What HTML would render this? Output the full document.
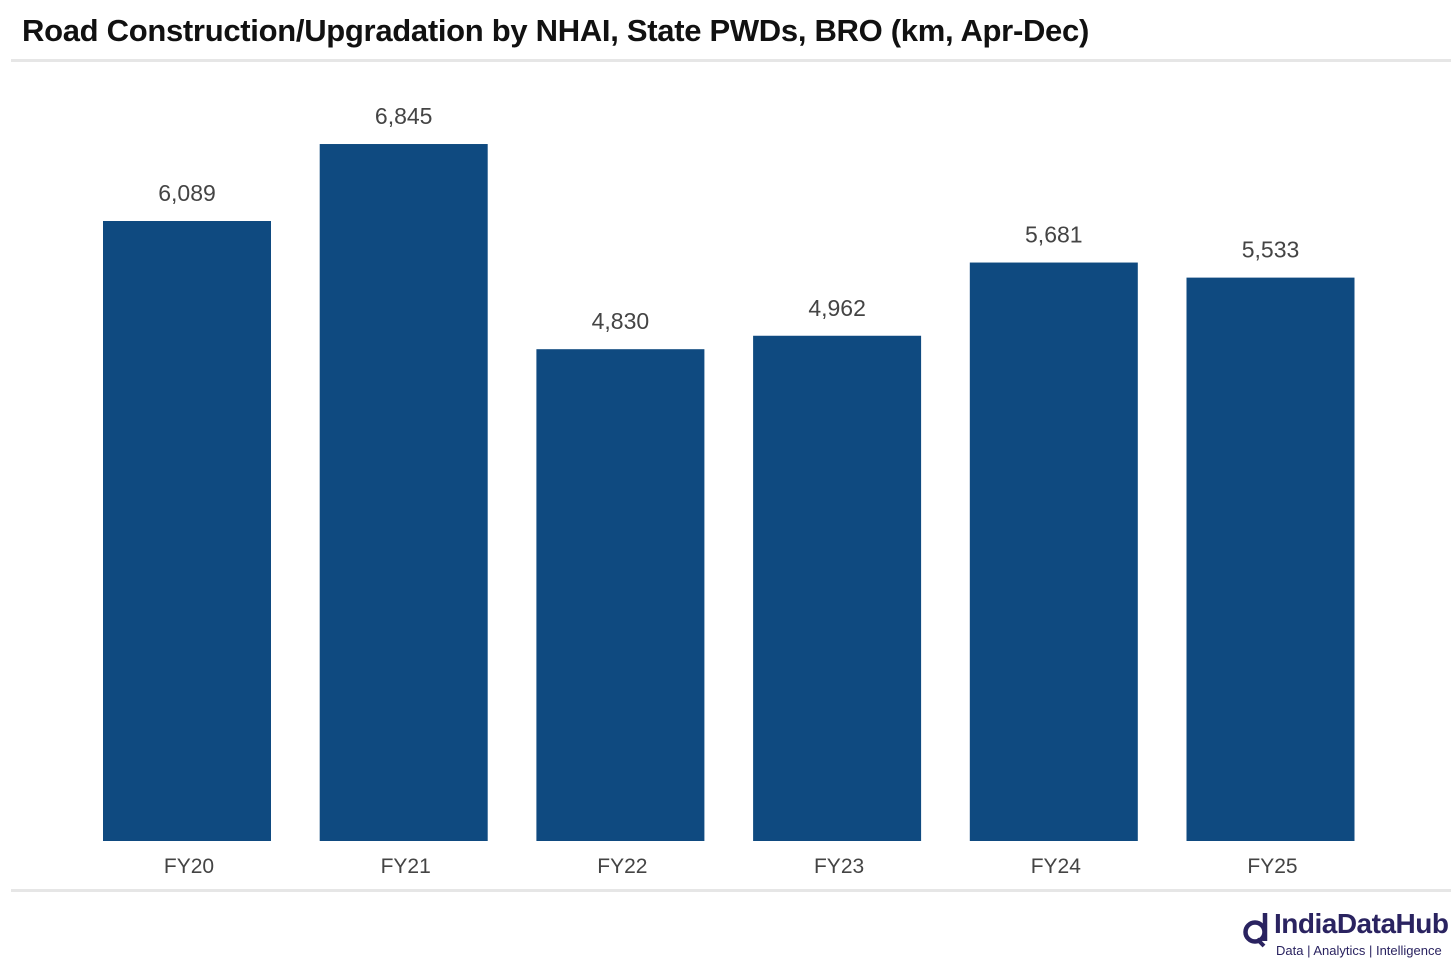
<!DOCTYPE html>
<html><head><meta charset="utf-8"><style>
body{margin:0;width:1456px;height:969px;background:#fff;font-family:"Liberation Sans",sans-serif;overflow:hidden;position:relative}
#title{position:absolute;left:22px;top:13px;font-size:31px;font-weight:bold;color:#111;letter-spacing:-0.3px}
.rule{position:absolute;left:11px;width:1440px;height:3px;background:#e6e6e6}
</style></head><body>
<div id="title">Road Construction/Upgradation by NHAI, State PWDs, BRO (km, Apr-Dec)</div>
<div class="rule" style="top:59px"></div>
<div class="rule" style="top:889px"></div>
<svg id="chart" width="1456" height="969" style="position:absolute;left:0;top:0"></svg>
<div style="position:absolute;left:1242px;top:908px;width:214px;height:54px">
<svg width="34" height="38" style="position:absolute;left:0;top:2px"><circle cx="13" cy="22" r="9.5" fill="none" stroke="#2a2360" stroke-width="4.5"/><line x1="23" y1="3" x2="23" y2="31" stroke="#2a2360" stroke-width="4.5"/><line x1="15" y1="29" x2="22" y2="36" stroke="#2a2360" stroke-width="4"/></svg>
<div style="position:absolute;left:32px;top:0;font-size:28px;font-weight:bold;color:#2a2360;letter-spacing:-0.5px">IndiaDataHub</div>
<div style="position:absolute;left:34px;top:35px;font-size:13px;color:#2a2360">Data | Analytics | Intelligence</div>
</div>
<script>
const categories=["FY20","FY21","FY22","FY23","FY24","FY25"];
const values=[6089,6845,4830,4962,5681,5533];
const labels=["6,089","6,845","4,830","4,962","5,681","5,533"];
const svg=document.getElementById('chart');
const NS="http://www.w3.org/2000/svg";
const base=841, scale=620/6089, x0=103, step=216.7, bw=168;
function y(v){return base-v*scale;}
function x(i){return x0+i*step;}
categories.forEach((c,i)=>{
  const r=document.createElementNS(NS,'rect');
  r.setAttribute('x',x(i));r.setAttribute('y',y(values[i]));
  r.setAttribute('width',bw);r.setAttribute('height',base-y(values[i]));
  r.setAttribute('fill','#0f4a80');
  
  
  svg.appendChild(r);
  const t=document.createElementNS(NS,'text');
  t.setAttribute('x',x(i)+bw/2);t.setAttribute('y',y(values[i])-20);
  t.setAttribute('text-anchor','middle');t.setAttribute('font-size','23');t.setAttribute('fill','#444');
  t.textContent=labels[i];
  
  
  svg.appendChild(t);
  const a=document.createElementNS(NS,'text');
  a.setAttribute('x',x(i)+bw/2+2);a.setAttribute('y',873);
  a.setAttribute('text-anchor','middle');a.setAttribute('font-size','21');a.setAttribute('fill','#444');
  a.textContent=c;
  
  
  svg.appendChild(a);
});
</script>
</body></html>
